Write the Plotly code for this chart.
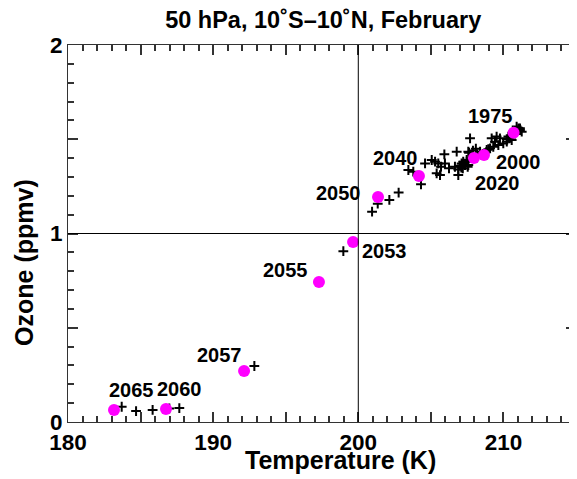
import plotly.graph_objects as go

# Black "+" points: temperature (K), ozone (ppmv)
plus_temp = [183.70, 184.69, 185.83, 186.98, 187.67, 192.84, 198.97,
             200.95, 201.34, 202.14, 202.78,
             203.45, 203.79, 204.32, 204.60, 205.06, 205.29, 205.51, 205.70, 205.93,
             205.97, 205.40, 205.63, 206.25, 206.66, 206.78, 206.89, 206.89, 207.12,
             207.23, 207.35, 207.47, 207.63, 207.70, 207.54, 207.47, 207.58, 207.58,
             207.00, 207.10, 207.30, 207.20, 207.90, 208.10, 208.20,
             208.39, 208.85, 208.96, 209.08, 209.30, 209.42, 209.65, 209.19, 209.53,
             209.76, 209.99, 210.23, 210.23, 210.34, 210.57, 210.40, 210.60, 210.80,
             210.91, 211.03, 211.14, 211.26, 211.14]
plus_ozone = [0.081, 0.058, 0.064, 0.072, 0.074, 0.297, 0.906,
              1.116, 1.158, 1.178, 1.217,
              1.337, 1.328, 1.261, 1.372, 1.390, 1.381, 1.372, 1.354, 1.420,
              1.372, 1.319, 1.310, 1.346, 1.354, 1.434, 1.340, 1.310, 1.372,
              1.381, 1.363, 1.390, 1.429, 1.505, 1.354, 1.381, 1.363, 1.434,
              1.360, 1.350, 1.370, 1.345, 1.440, 1.450, 1.420,
              1.434, 1.443, 1.447, 1.452, 1.460, 1.487, 1.469, 1.505, 1.514,
              1.505, 1.478, 1.487, 1.501, 1.514, 1.496, 1.505, 1.520, 1.530,
              1.567, 1.558, 1.549, 1.540, 1.558]

# Magenta labelled years
year_labels = ["1975", "2000", "2020", "2040", "2050", "2053", "2055", "2057", "2060", "2065"]
year_temp = [210.70, 208.66, 207.97, 204.18, 201.36, 199.64, 197.29, 192.13, 186.75, 183.17]
year_ozone = [1.535, 1.416, 1.400, 1.305, 1.194, 0.955, 0.743, 0.271, 0.069, 0.064]

# pixel offsets of each year label from its point
label_dx = [-23, 35, 24, -23, -40, 31, -33, -25, 14, 17]
label_dy = [17, -7, -25, 18, 4, -9, 12, 16, 20, 20]

x_range = [180, 215]
y_range = [0, 2]
x_major_step = 5
x_minor_step = 1
x_hidden_labels = {"185": " ", "195": " ", "205": " ", "215": " "}
y_major_step = 0.5
y_minor_step = 0.1
y_hidden_labels = {"0.5": " ", "1.5": " "}

FONT = "Liberation Sans, Arial, Helvetica, sans-serif"

fig = go.Figure()
fig.add_trace(go.Scatter(
    x=plus_temp, y=plus_ozone, mode="markers",
    marker=dict(symbol="cross-thin", size=7, line=dict(color="black", width=2)),
    showlegend=False, hoverinfo="skip"))
fig.add_trace(go.Scatter(
    x=year_temp, y=year_ozone, mode="markers",
    marker=dict(symbol="circle", size=12, color="#FF00FF", line=dict(width=0)),
    showlegend=False, hoverinfo="skip"))

for lab, xv, yv, dx, dy in zip(year_labels, year_temp, year_ozone, label_dx, label_dy):
    fig.add_annotation(x=xv, y=yv, text=lab, showarrow=False,
                       xshift=dx, yshift=dy,
                       font=dict(family=FONT, size=20, color="black", weight="bold"))

# axis titles
fig.add_annotation(xref="paper", yref="paper", x=0.537, y=0, yshift=-38,
                   xanchor="center", yanchor="middle", showarrow=False,
                   text="Temperature (K)",
                   font=dict(family=FONT, size=25, color="black", weight="bold"))
fig.add_annotation(xref="paper", yref="paper", x=0, xshift=-44, y=0.422,
                   xanchor="center", yanchor="middle", showarrow=False, textangle=-90,
                   text="Ozone (ppmv)",
                   font=dict(family=FONT, size=25, color="black", weight="bold"))

fig.add_shape(type="line", x0=200, x1=200, y0=y_range[0], y1=y_range[1], xref="x", yref="y",
              line=dict(color="black", width=1))
fig.add_shape(type="line", x0=x_range[0], x1=x_range[1], y0=1, y1=1, xref="x", yref="y",
              line=dict(color="black", width=1))

fig.update_layout(
    xaxis=dict(range=x_range, dtick=x_major_step, ticks="inside", ticklen=10,
               tickwidth=2, tickcolor="#333333",
               showline=True, linecolor="#333333", mirror="allticks",
               labelalias=x_hidden_labels,
               tickfont=dict(family=FONT, size=22.5, color="black", weight="bold"),
               minor=dict(dtick=x_minor_step, ticks="inside", ticklen=6,
                          tickwidth=2, tickcolor="#333333")),
    yaxis=dict(range=y_range, dtick=y_major_step, ticks="inside", ticklen=10,
               tickwidth=2, tickcolor="#333333",
               showline=True, linecolor="#333333", mirror="allticks",
               labelalias=y_hidden_labels,
               tickfont=dict(family=FONT, size=22.5, color="black", weight="bold"),
               minor=dict(dtick=y_minor_step, ticks="inside", ticklen=6,
                          tickwidth=2, tickcolor="#333333")),
)

# page body has an 8 px default margin, so the figure is drawn 8 px in from the corner
fig.update_layout(
    width=569, height=471,
    margin=dict(l=60, r=1, t=37, b=57, autoexpand=False),
    plot_bgcolor="white", paper_bgcolor="white",
    title=dict(text="50 hPa, 10˚S–10˚N, February", x=0.554, xanchor="center",
               xref="container", y=0.974, yanchor="middle",
               font=dict(family=FONT, size=23.5, color="black", weight="bold")),
)

fig.write_html("out.html")
